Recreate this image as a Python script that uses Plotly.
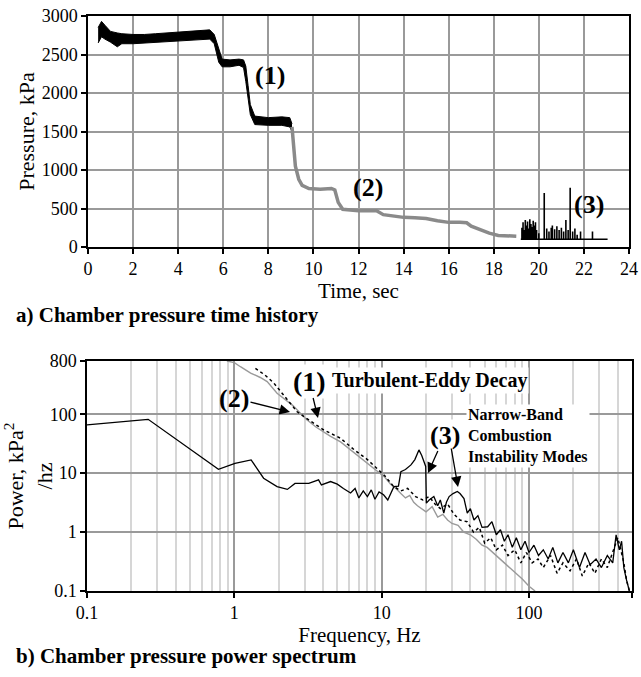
import math
import plotly.graph_objects as go

W, H = 641, 677
FONT = "Liberation Serif"

# ---------------- (a) chamber pressure time history ----------------
# black portion (noisy band): time, lower and upper envelope, kPa
black_t = [0.45, 0.6, 0.75, 1.0, 1.3, 1.5, 2.0, 2.5, 3.0, 3.5, 4.0, 4.5, 5.0, 5.4,
           5.6, 5.8, 5.95, 6.3, 6.7, 6.9, 7.0, 7.1, 7.2, 7.4, 8.0, 8.6, 8.95, 9.05]
black_lo = [2650, 2730, 2700, 2660, 2600, 2640, 2640, 2650, 2660, 2670, 2680, 2690, 2700, 2700,
            2640, 2400, 2340, 2340, 2360, 2330, 2150, 1900, 1720, 1590, 1580, 1580, 1560, 1500]
black_hi = [2850, 2930, 2880, 2800, 2780, 2770, 2760, 2760, 2770, 2780, 2790, 2800, 2810, 2820,
            2760, 2560, 2440, 2430, 2440, 2430, 2350, 2100, 1850, 1700, 1680, 1690, 1680, 1600]

# gray portion
gray_t = [9.05, 9.1, 9.2, 9.35, 9.5, 9.8, 10.3, 10.8, 10.95, 11.1, 11.3, 12.0, 12.8, 13.1,
          13.5, 14.0, 14.5, 15.0, 15.5, 16.0, 16.5, 16.8, 17.0, 17.4, 17.8, 18.2, 18.6, 19.0]
gray_p = [1560, 1400, 1050, 880, 800, 760, 750, 760, 740, 580, 490, 470, 470, 420,
          400, 385, 380, 370, 340, 320, 320, 315, 270, 220, 180, 150, 140, 140]

# black spiky portion: baseline and spike peaks
spike_base = 100
spike_start, spike_end = 19.2, 23.05
spike_t = [19.25, 19.3, 19.35, 19.4, 19.45, 19.5, 19.55, 19.6, 19.65, 19.7, 19.75, 19.8,
           19.85, 19.9, 20.0, 20.24, 20.35, 20.45, 20.55, 20.6, 20.7, 20.8, 20.9, 21.0,
           21.1, 21.2, 21.3, 21.39, 21.5, 21.6, 21.7, 21.85, 22.38]
spike_p = [250, 320, 220, 350, 280, 330, 240, 360, 300, 260, 340, 280,
           320, 220, 180, 700, 240, 200, 250, 280, 230, 270, 220, 250,
           200, 350, 220, 770, 200, 240, 160, 200, 200]

# ---------------- (b) chamber pressure power spectrum ----------------
f2 = [0.89, 1.0, 1.1, 1.29, 1.5, 1.67, 1.95, 2.2, 2.5, 2.81, 3.12, 3.6, 4.0, 4.5, 5.26, 6.0,
      7.0, 8.0, 9.35, 10.5, 11.5, 12.5, 13.5, 14.5, 15.5, 16.5, 17.5, 18.5, 20, 22, 24, 26,
      28, 30, 33, 36, 40, 44, 48, 52, 57, 62, 68, 75, 82, 90, 100, 110]
p2 = [800, 750, 640, 500, 420, 357, 227, 180, 140, 104, 80, 60, 50, 42, 34, 26,
      19, 15, 10.6, 8.5, 6.5, 5.5, 4.5, 3.8, 4.2, 3.2, 2.8, 2.5, 2.2, 2.7, 1.8, 2.0,
      1.6, 1.4, 1.3, 1.0, 0.9, 0.75, 0.6, 0.55, 0.45, 0.38, 0.3, 0.24, 0.2, 0.16, 0.12, 0.1]

f1 = [1.39, 1.6, 1.85, 2.2, 2.67, 3.2, 4.0, 5.26, 6.5, 8.0, 9.35, 10.5, 12, 13.5, 15, 17,
      19, 21, 23, 25, 28, 31, 34, 38, 42, 46, 50, 55, 60, 66, 72, 80, 88, 96, 105, 115,
      125, 140, 155, 170, 190, 210, 230, 255, 280, 310, 340, 370, 400, 420, 440, 460, 480]
p1 = [600, 470, 340, 200, 110, 80, 55, 39, 25, 17, 12, 9, 6, 5, 5.5, 4,
      3.5, 4, 3, 2.5, 3, 2, 1.6, 1.5, 1.0, 1.2, 0.65, 0.8, 0.5, 0.6, 0.4, 0.5, 0.3, 0.45, 0.3, 0.35,
      0.25, 0.4, 0.2, 0.3, 0.22, 0.35, 0.18, 0.3, 0.2, 0.35, 0.25, 0.45, 0.8, 0.5, 0.3, 0.15, 0.1]

f3 = [0.1, 0.26, 0.78, 1.01, 1.3, 1.58, 1.95, 2.29, 2.58, 3.2, 3.73, 3.9, 4.5, 5.0, 5.5, 6.15,
      6.6, 7.0, 7.5, 8.0, 8.5, 9.0, 9.6, 10.3, 11, 12.1, 13.0, 13.5, 14.5, 15.8, 16.8, 17.9,
      18.7, 19.4, 19.9, 20.1, 21, 22.6, 24, 25, 26.4, 27.5, 28.7, 30.5, 32.6, 34, 36.2, 38.1,
      40, 42.3, 45, 48, 52.4, 56, 60, 64, 68, 72, 77, 82, 88, 94, 100, 108, 116, 125, 135,
      145, 157, 170, 185, 200, 220, 240, 260, 285, 310, 340, 370, 390, 410, 425, 440, 460, 480]
p3 = [66, 82, 11.6, 14.7, 16.8, 8.2, 5.9, 5.3, 6.7, 6.7, 7.7, 6.3, 7.2, 6.5, 5.5, 4.6,
      5.5, 3.8, 5.0, 4.0, 5.2, 3.6, 4.8, 4.3, 3.5, 5.9, 6.0, 10.6, 11.5, 13.8, 17, 24.8,
      20, 14.7, 13, 3.1, 3.5, 4.0, 2.8, 3.5, 2.1, 3.2, 4.0, 4.5, 4.9, 4.5, 3.7, 2.1,
      2.5, 1.6, 1.9, 1.2, 1.23, 1.5, 0.9, 1.1, 0.7, 0.9, 0.55, 0.8, 0.5, 0.7, 0.45, 0.6, 0.4,
      0.5, 0.35, 0.55, 0.3, 0.45, 0.3, 0.5, 0.25, 0.45, 0.28, 0.35, 0.25, 0.4, 0.3, 0.9, 0.5,
      0.7, 0.25, 0.15, 0.1]

time_ticks = list(range(0, 25, 2))
p_ticks = [0, 500, 1000, 1500, 2000, 2500, 3000]
f_ticks = [0.1, 1, 10, 100, 500]
f_ticklabels = ["0.1", "1", "10", "100", "500"]
pow_ticks = [0.1, 1, 10, 100, 800]
pow_ticklabels = ["0.1", "1", "10", "100", "800"]


def X(px):
    return px / W


def Y(py):
    return 1 - py / H


fig = go.Figure()

# (a) traces
fig.add_trace(go.Scatter(x=black_t, y=black_lo, mode="lines", line=dict(color="black", width=1),
                         xaxis="x", yaxis="y", showlegend=False, hoverinfo="skip"))
fig.add_trace(go.Scatter(x=black_t, y=black_hi, mode="lines", line=dict(color="black", width=1),
                         fill="tonexty", fillcolor="black",
                         xaxis="x", yaxis="y", showlegend=False))
fig.add_trace(go.Scatter(x=gray_t, y=gray_p, mode="lines", line=dict(color="#8a8a8a", width=3.5),
                         xaxis="x", yaxis="y", showlegend=False))

sx, sy = [spike_start], [spike_base]
for t, p in zip(spike_t, spike_p):
    sx += [t, t, t]
    sy += [spike_base, p, spike_base]
sx.append(spike_end)
sy.append(spike_base)
fig.add_trace(go.Scatter(x=sx, y=sy, mode="lines", line=dict(color="black", width=1.6),
                         xaxis="x", yaxis="y", showlegend=False))

# (b) traces
fig.add_trace(go.Scatter(x=f2, y=p2, mode="lines", line=dict(color="#9a9a9a", width=1.4),
                         xaxis="x2", yaxis="y2", showlegend=False, name="(2)"))
fig.add_trace(go.Scatter(x=f1, y=p1, mode="lines", line=dict(color="black", width=1.5, dash="dot"),
                         xaxis="x2", yaxis="y2", showlegend=False, name="(1)"))
fig.add_trace(go.Scatter(x=f3, y=p3, mode="lines", line=dict(color="black", width=1.3),
                         xaxis="x2", yaxis="y2", showlegend=False, name="(3)"))

# minor grid values for log frequency axis (2..9 per decade)
minor_f = [m * 10 ** d for d in (-1, 0, 1, 2) for m in range(2, 10) if m * 10 ** d < 500]

axis_common = dict(showline=True, linecolor="black", linewidth=1.5, mirror=True,
                   ticks="outside", ticklen=5, tickcolor="black", tickwidth=1.5,
                   automargin=False, zeroline=False,
                   tickfont=dict(family=FONT, size=18, color="black"))

fig.update_layout(
    width=W, height=H,
    margin=dict(l=0, r=0, t=0, b=0),
    paper_bgcolor="white", plot_bgcolor="white",
    font=dict(family=FONT, color="black"),
    xaxis=dict(domain=[X(88), X(629)], range=[0, 24], tickvals=time_ticks, anchor="y",
               showgrid=True, gridcolor="#9a9a9a", gridwidth=1.5,
               title=dict(text="Time, sec", font=dict(size=21), standoff=0), **axis_common),
    yaxis=dict(domain=[Y(247), Y(16)], range=[0, 3000], tickvals=p_ticks, anchor="x",
               showgrid=True, gridcolor="#9a9a9a", gridwidth=1.5,
               title=dict(text="Pressure, kPa", font=dict(size=22), standoff=1), **axis_common),
    xaxis2=dict(domain=[X(87), X(632)], type="log", range=[-1, math.log10(500)], anchor="y2",
                tickvals=f_ticks, ticktext=f_ticklabels,
                showgrid=True, gridcolor="#9a9a9a", gridwidth=1.5,
                minor=dict(tickvals=minor_f, showgrid=True, gridcolor="#d6d6d6", gridwidth=1.5, ticks=""),
                title=dict(text="Frequency, Hz", font=dict(size=21), standoff=1), **axis_common),
    yaxis2=dict(domain=[Y(591), Y(361)], type="log", range=[-1, math.log10(800)], anchor="x2",
                tickvals=pow_ticks, ticktext=pow_ticklabels,
                showgrid=True, gridcolor="#9a9a9a", gridwidth=1.5,
                title=dict(text="Power, kPa<sup>2</sup><br>/hz", font=dict(size=22), standoff=0),
                **axis_common),
)

ann = []
# figure captions
ann.append(dict(text="<b>a) Chamber pressure time history</b>", x=X(14), y=Y(315), xanchor="left",
                font=dict(size=21), showarrow=False))
ann.append(dict(text="<b>b) Chamber pressure power spectrum</b>", x=X(14), y=Y(656), xanchor="left",
                font=dict(size=21), showarrow=False))
# (a) labels
ann.append(dict(text="<b>(1)</b>", x=X(270), y=Y(76), font=dict(size=26), showarrow=False))
ann.append(dict(text="<b>(2)</b>", x=X(368), y=Y(187), font=dict(size=26), showarrow=False))
ann.append(dict(text="<b>(3)</b>", x=X(589), y=Y(205), font=dict(size=26), showarrow=False))
# (b) labels
arrow_style = dict(showarrow=True, arrowhead=2, arrowsize=1.6, arrowwidth=1.3,
                   arrowcolor="black", axref="pixel", ayref="pixel")
ann.append(dict(text="<b>(1)</b>", x=X(318), y=Y(418), ax=309 - 318, ay=381 - 418,
                font=dict(size=28), bgcolor="white", **arrow_style))
ann.append(dict(text="<b>Turbulent-Eddy Decay</b>", x=X(330), y=Y(381), xanchor="left",
                font=dict(size=20), showarrow=False, bgcolor="white"))
ann.append(dict(text="<b>(2)</b>", x=X(290), y=Y(412), ax=234 - 290, ay=398 - 412,
                font=dict(size=26), **arrow_style))
ann.append(dict(text="<b>(3)</b>", x=X(428), y=Y(473), ax=445 - 428, ay=435 - 473,
                font=dict(size=26), bgcolor="white", **arrow_style))
ann.append(dict(text="<b>Narrow-Band<br>Combustion<br>Instability Modes</b>", x=X(466), y=Y(436),
                xanchor="left", align="left", font=dict(size=16), showarrow=False, bgcolor="white"))
# second arrow of (3)
ann.append(dict(text="", x=X(458), y=Y(487), ax=451 - 458, ay=447 - 487, **arrow_style))

for a in ann:
    a.setdefault("xref", "paper")
    a.setdefault("yref", "paper")
    a.setdefault("xanchor", "center")
    a.setdefault("yanchor", "middle")
fig.update_layout(annotations=ann)

fig.write_html("out.html")
